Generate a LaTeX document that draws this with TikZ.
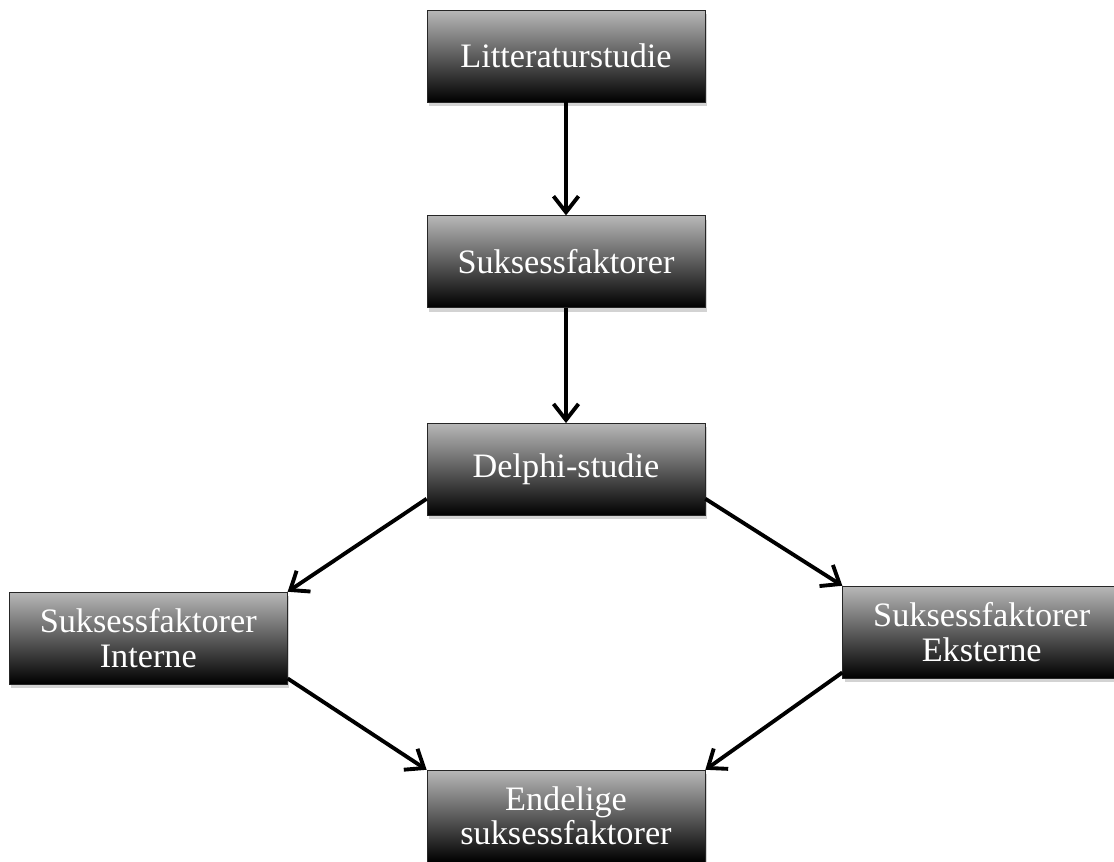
\documentclass[tikz,border=0pt]{standalone}
\usepackage{fontspec}
\setmainfont{Liberation Serif}
\usetikzlibrary{shapes,arrows.meta,positioning,shadows}
\tikzstyle{box} = [draw=black!85, rectangle, top color=black!28, bottom color=black, text=white, drop shadow={opacity=0.35, shadow xshift=0.04cm, shadow yshift=-0.08cm}, minimum width=5.56cm, minimum height=1.84cm, text width=5.3cm, align=center, font=\fontsize{19.5}{19.5}\selectfont]
\tikzstyle{line} = [draw, line width=2.2pt, -{Straight Barb[length=0.32cm, width=0.5cm]}]

\begin{document}
\begin{tikzpicture}[node distance=2.26cm]
	\clip (0,0) rectangle (22.28,-17.22);
	\node [box] (lit) at (11.32,-1.12) {Litteraturstudie};
	\node [box, below=2.26cm of lit] (suk) {Suksessfaktorer};
	\node [box, below=2.3cm of suk] (delphi) {Delphi-studie};
	\node [box, below left=1.52cm and 2.78cm of delphi] (intern) {Suksessfaktorer\\Interne};
	\node [box, below right=1.4cm and 2.74cm of delphi] (ekstern) {Suksessfaktorer\\Eksterne};
	\node [box, below=5.08cm of delphi] (endelig) {Endelige\\suksessfaktorer};

	\path [line] (lit) -- (suk);
	\path [line] (suk) -- (delphi);
	\path [line] ([yshift=0.34cm]delphi.south west) -- (intern.north east);
	\path [line] ([yshift=0.34cm]delphi.south east) -- (ekstern.north west);
	\path [line] ([yshift=0.12cm]intern.south east) -- (endelig.north west);
	\path [line] ([yshift=0.12cm]ekstern.south west) -- (endelig.north east);
\end{tikzpicture}
\end{document}
